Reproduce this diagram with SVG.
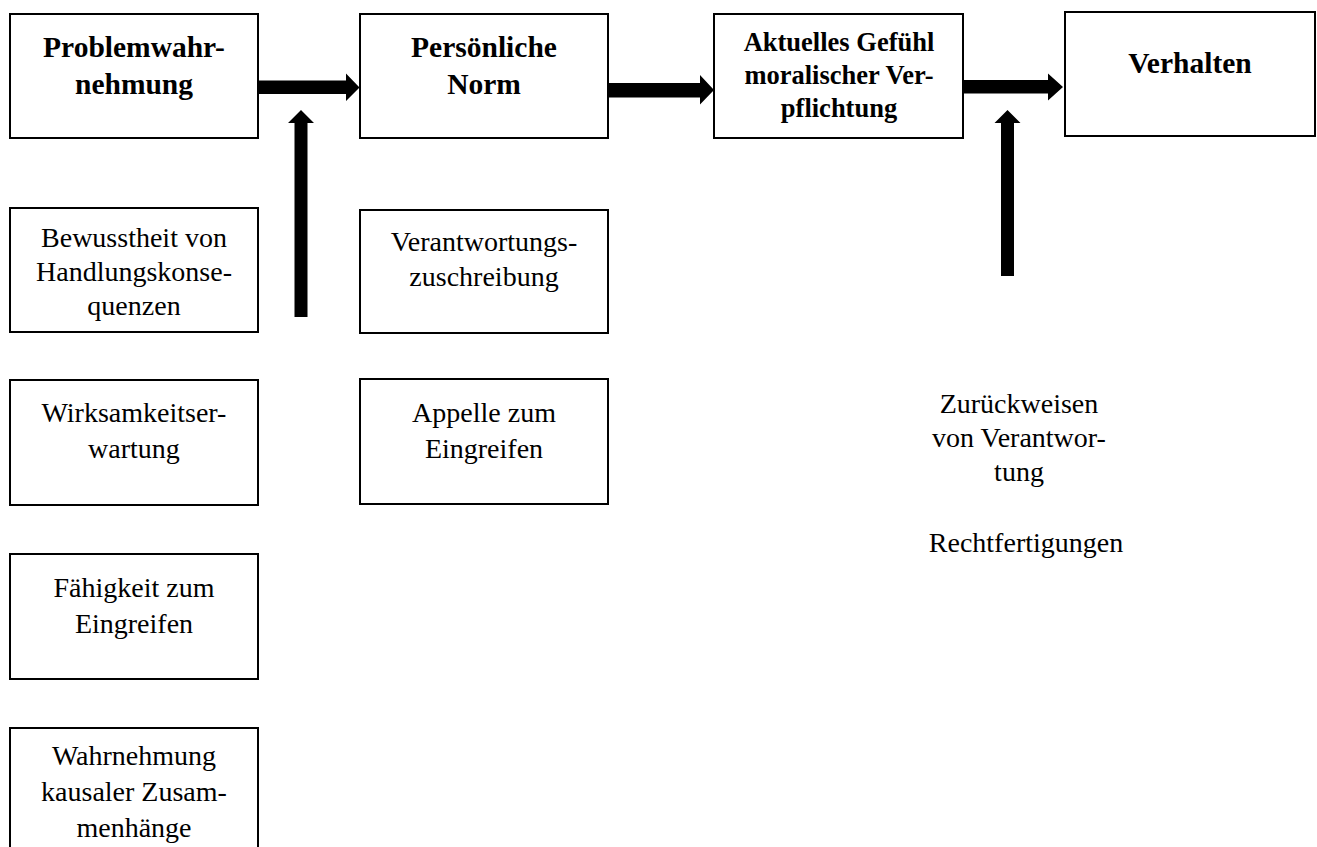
<svg xmlns="http://www.w3.org/2000/svg" width="1317" height="847" viewBox="0 0 1317 847">
<style>
.box{fill:#fff;stroke:#000;stroke-width:2}
text{font-family:"Liberation Serif","Times New Roman",serif;fill:#000;text-anchor:middle}
.b{font-weight:bold;font-size:29.5px}
.b3{font-weight:bold;font-size:26.5px}
.r{font-size:28px}
.arr{fill:#000;stroke:none}
</style>
<rect width="1317" height="847" fill="#fff"/>
<g id="n-problem">
<rect class="box" x="10" y="14" width="248" height="124"/>
<text class="b" x="134" y="57">Problemwahr-</text>
<text class="b" x="134" y="94">nehmung</text>
</g>
<g id="n-norm">
<rect class="box" x="360" y="14" width="248" height="124"/>
<text class="b" x="484" y="57">Persönliche</text>
<text class="b" x="484" y="94">Norm</text>
</g>
<g id="n-gefuehl">
<rect class="box" x="714" y="14" width="249" height="124"/>
<text class="b3" x="839" y="51">Aktuelles Gefühl</text>
<text class="b3" x="839" y="83.5">moralischer Ver-</text>
<text class="b3" x="839" y="116.5">pflichtung</text>
</g>
<g id="n-verhalten">
<rect class="box" x="1065" y="12" width="250" height="124"/>
<text class="b" x="1190" y="72.5">Verhalten</text>
</g>
<g id="n-bewusstheit">
<rect class="box" x="10" y="208" width="248" height="124"/>
<text class="r" x="134" y="246.5">Bewusstheit von</text>
<text class="r" x="134" y="281">Handlungskonse-</text>
<text class="r" x="134" y="315">quenzen</text>
</g>
<g id="n-verantwortung">
<rect class="box" x="360" y="210" width="248" height="123"/>
<text class="r" x="484" y="251">Verantwortungs-</text>
<text class="r" x="484" y="286">zuschreibung</text>
</g>
<g id="n-wirksamkeit">
<rect class="box" x="10" y="380" width="248" height="125"/>
<text class="r" x="134" y="421.5">Wirksamkeitser-</text>
<text class="r" x="134" y="457.5">wartung</text>
</g>
<g id="n-appelle">
<rect class="box" x="360" y="379" width="248" height="125"/>
<text class="r" x="484" y="421.5">Appelle zum</text>
<text class="r" x="484" y="457.5">Eingreifen</text>
</g>
<g id="n-faehigkeit">
<rect class="box" x="10" y="554" width="248" height="125"/>
<text class="r" x="134" y="596.5">Fähigkeit zum</text>
<text class="r" x="134" y="633">Eingreifen</text>
</g>
<g id="n-wahrnehmung">
<rect class="box" x="10" y="728" width="248" height="140"/>
<text class="r" x="134" y="765">Wahrnehmung</text>
<text class="r" x="134" y="800.5">kausaler Zusam-</text>
<text class="r" x="134" y="836.5">menhänge</text>
</g>
<g id="n-zurueckweisen">
<text class="r" x="1019" y="413">Zurückweisen</text>
<text class="r" x="1019" y="447">von Verantwor-</text>
<text class="r" x="1019" y="481">tung</text>
</g>
<g id="n-rechtfertigungen">
<text class="r" x="1026" y="552">Rechtfertigungen</text>
</g>
<g id="connectors">
<polygon class="arr" points="258,80.5 346,80.5 346,73.5 359.5,87.5 346,101 346,94 258,94"/>
<polygon class="arr" points="608,83 700,83 700,75 714,90 700,104.5 700,97.5 608,97.5"/>
<polygon class="arr" points="963,80 1048,80 1048,73.5 1063,87 1048,100.5 1048,93.5 963,93.5"/>
<polygon class="arr" points="294.5,317 294.5,123 288,123 301,110 314,123 307.5,123 307.5,317"/>
<polygon class="arr" points="1001,276 1001,123 994.5,123 1007.5,110 1020.5,123 1014,123 1014,276"/>
</g>
</svg>
